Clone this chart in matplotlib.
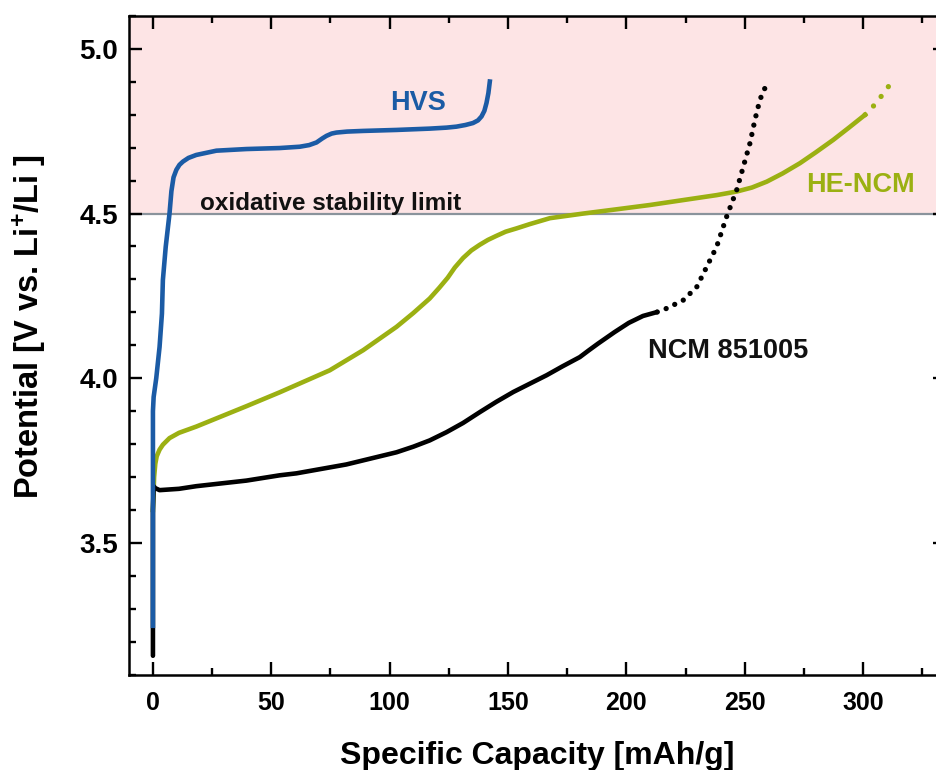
import matplotlib
matplotlib.use("Agg")
import matplotlib.pyplot as plt
from matplotlib.ticker import MultipleLocator

plt.rcParams['font.family'] = ['Liberation Sans', 'DejaVu Sans']
plt.rcParams['font.weight'] = 'bold'
plt.rcParams['mathtext.fontset'] = 'custom'
plt.rcParams['mathtext.rm'] = 'Liberation Sans:bold'
plt.rcParams['mathtext.bf'] = 'Liberation Sans:bold'
plt.rcParams['mathtext.it'] = 'Liberation Sans:bold'

# ---- data ----
hvs_x = [0, 0, 0.3, 1.4, 2.8, 3.8, 4.2, 5.4, 7.0, 7.8, 8.7, 9.9, 11.2, 12.7, 15.0, 18.3,
         26.8, 39.5, 53.5, 62.0, 66.0, 69.1, 71.5, 73.3, 75.5, 77.5, 82.0, 88.8, 102.9,
         116.9, 124.0, 128.2, 132.0, 135.2, 137.3, 138.8, 140.0, 140.9, 141.7, 142.3]
hvs_y = [3.248, 3.90, 3.943, 4.00, 4.095, 4.196, 4.298, 4.399, 4.50, 4.568, 4.610, 4.633,
         4.648, 4.658, 4.669, 4.678, 4.691, 4.696, 4.699, 4.703, 4.708, 4.716, 4.728,
         4.736, 4.743, 4.746, 4.749, 4.751, 4.754, 4.758, 4.761, 4.764, 4.769, 4.775,
         4.783, 4.795, 4.812, 4.836, 4.866, 4.901]

ncm_x = [0, 0, 0.3, 1.0, 2.8, 11, 18.3, 39.5, 53.5, 60.6, 81.7, 102.9, 110, 116.9, 124,
         131, 138.1, 145, 152.2, 166.3, 173, 180.3, 184, 188, 195, 201, 207, 213]
ncm_y = [3.157, 3.60, 3.672, 3.666, 3.660, 3.664, 3.672, 3.689, 3.705, 3.711, 3.738,
         3.775, 3.792, 3.811, 3.836, 3.864, 3.897, 3.928, 3.958, 4.009, 4.036, 4.064,
         4.084, 4.105, 4.140, 4.168, 4.189, 4.201]
ncm_ext_x = [213, 217, 224, 229.7, 233.9, 238.1, 242.3, 246.6, 249.4, 252.2, 254.3, 256.4, 258.5]
ncm_ext_y = [4.201, 4.212, 4.237, 4.277, 4.338, 4.399, 4.490, 4.572, 4.643, 4.714, 4.785, 4.846, 4.881]

he_x = [0, 0.5, 1.0, 1.6, 2.8, 4.2, 7.0, 11.0, 18.3, 39.5, 53.5, 74.7, 88.8, 102.9, 110,
        116.9, 121, 124.5, 127.5, 131, 134.5, 138, 141.5, 145, 149, 153.6, 159.2, 167.7,
        181.7, 195.9, 209.9, 224, 238.1, 246.6, 253, 259.3, 266, 273.3, 280, 287.4, 294,
        300.8]
he_y = [3.60, 3.70, 3.74, 3.763, 3.783, 3.798, 3.818, 3.834, 3.853, 3.915, 3.957, 4.024,
        4.085, 4.156, 4.198, 4.242, 4.275, 4.305, 4.336, 4.365, 4.388, 4.405, 4.420,
        4.432, 4.445, 4.455, 4.468, 4.486, 4.500, 4.513, 4.526, 4.541, 4.556, 4.567,
        4.579, 4.597, 4.622, 4.653, 4.686, 4.724, 4.761, 4.800]
he_ext_x = [300.8, 303.6, 307.1, 310.7]
he_ext_y = [4.800, 4.820, 4.851, 4.886]

limit_v = 4.5
x_ticks = [0, 50, 100, 150, 200, 250, 300]
y_ticks = [3.5, 4.0, 4.5, 5.0]

blue = '#1b5ba5'
green = '#9bb012'
black = '#000000'

fig = plt.figure(figsize=(9.36, 7.70), dpi=100)
ax = fig.add_axes([0.1381, 0.124, 0.8726, 0.8552])
ax.set_xlim(-10, 335)
ax.set_ylim(3.1, 5.1)

ax.axhspan(limit_v, 5.1, color='#fde4e5', zorder=0, lw=0)
ax.axhline(limit_v, color='#8a939c', lw=1.6, zorder=1)

lw = 3.3
ax.plot(he_x, he_y, color=green, lw=lw, zorder=2, solid_joinstyle='round')
ax.plot(he_ext_x, he_ext_y, color=green, lw=3.8, zorder=2,
        linestyle=(0, (0.01, 2.3)), dash_capstyle='round')
ax.plot(ncm_x, ncm_y, color=black, lw=lw, zorder=3, solid_capstyle='round',
        solid_joinstyle='round')
ax.plot(ncm_ext_x, ncm_ext_y, color=black, lw=3.8, zorder=3,
        linestyle=(0, (0.01, 1.8)), dash_capstyle='round')
ax.plot(hvs_x, hvs_y, color=blue, lw=lw, zorder=4, solid_joinstyle='round')

ax.text(19.7, 4.511, 'oxidative stability limit', fontsize=17.5, fontweight='bold',
        color='#111111', va='baseline', ha='left', zorder=5)
ax.text(100, 4.815, 'HVS', fontsize=19.5, fontweight='bold', color=blue,
        va='baseline', ha='left', zorder=5)
ax.text(275.9, 4.567, 'HE-NCM', fontsize=19.5, fontweight='bold', color=green,
        va='baseline', ha='left', zorder=5)
ax.text(209.2, 4.062, 'NCM 851005', fontsize=19.5, fontweight='bold', color='#111111',
        va='baseline', ha='left', zorder=5)

ax.set_xticks(x_ticks)
ax.set_yticks(y_ticks)
ax.set_yticklabels([f'{v:.1f}' for v in y_ticks])
ax.xaxis.set_minor_locator(MultipleLocator(25))
ax.yaxis.set_minor_locator(MultipleLocator(0.1))
ax.tick_params(which='both', direction='in', top=True, right=True, width=1.7)
ax.tick_params(which='major', length=9.5)
ax.tick_params(which='minor', length=5)
ax.tick_params(axis='x', which='major', labelsize=18, pad=12)
ax.tick_params(axis='y', which='major', labelsize=20, pad=8)
for lab in ax.get_xticklabels() + ax.get_yticklabels():
    lab.set_fontweight('bold')
for s in ax.spines.values():
    s.set_linewidth(1.8)

ax.set_xlabel('Specific Capacity [mAh/g]', fontsize=23, fontweight='bold')
ax.set_ylabel('Potential [V vs. Li$^{+}$/Li ]', fontsize=23.5, fontweight='bold')
ax.xaxis.set_label_coords(0.5, -0.101)
ax.xaxis.label.set_va('top')
ax.yaxis.set_label_coords(-0.1, 0.528)

fig.savefig('out.png', dpi=100)
